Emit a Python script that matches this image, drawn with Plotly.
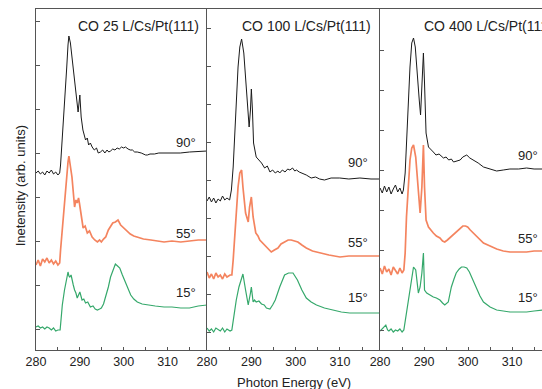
import plotly.graph_objects as go

# ---------------- data (photon energy in eV, intensity in arb. units) ----------------
titles = ["CO 25 L/Cs/Pt(111)", "CO 100 L/Cs/Pt(111)", "CO 400 L/Cs/Pt(111)"]
angles = ["90°", "55°", "15°"]

# Panel 1: CO 25 L
p1_e_90 = [280.0,280.5,281.0,281.5,282.0,282.5,283.0,283.5,284.0,284.5,
           285.0,285.4,285.6,286.0,286.5,287.0,287.3,287.5,287.85,288.6,
           289.2,289.6,290.0,290.2,290.3,290.7,291.0,291.3,291.7,292.0,
           292.4,292.8,293.3,293.8,294.2,294.7,295.2,295.7,296.2,296.6,
           297.0,297.5,298.0,298.5,299.0,299.5,300.0,300.4,301.0,301.5,
           302.0,302.5,303.1,304.0,305.0,305.4,306.0,307.0,308.0,309.1,
           310.0,311.0,312.9,315.0,317.0,319.0]
p1_i_90 = [17.7,17.9,17.6,17.8,17.5,17.9,17.7,18.0,17.6,17.8,
           17.5,17.7,18.5,21.0,24.2,28.2,30.5,31.4,30.7,28.0,
           25.3,23.8,25.5,24.3,23.3,22.0,21.5,21.0,21.2,20.5,
           20.7,20.3,20.0,20.2,19.7,19.8,20.0,19.7,20.0,19.8,
           19.9,20.1,20.0,20.2,20.1,20.3,20.2,20.3,20.1,20.0,
           20.0,19.8,19.8,19.7,19.5,19.5,19.6,19.6,19.7,19.7,
           19.7,19.65,19.7,19.8,19.85,19.9]
p1_e_55 = [280.0,280.5,281.0,281.5,282.0,282.5,283.0,283.5,284.0,284.5,
           285.0,285.4,285.6,286.0,286.5,287.0,287.3,287.5,287.8,288.2,
           288.8,289.1,289.4,289.7,289.9,290.3,290.75,291.2,291.7,292.2,
           292.8,293.4,294.0,294.5,294.9,295.4,295.9,296.5,297.0,297.5,
           298.1,298.7,299.3,300.0,300.8,301.5,302.3,303.1,304.5,306.2,
           307.5,309.2,311.0,313.0,315.0,317.0,319.0]
p1_i_55 = [8.5,9.0,8.4,9.1,8.8,9.2,8.7,9.0,8.6,8.9,
           8.5,8.7,10.0,12.2,15.0,17.5,18.8,19.4,18.5,17.3,
           14.3,15.0,14.7,15.2,14.7,13.3,12.2,12.4,11.7,11.9,
           11.3,11.0,10.8,11.0,10.8,11.1,11.3,12.0,12.3,12.7,
           12.8,13.0,12.5,12.2,11.8,11.6,11.4,11.3,11.1,11.0,
           10.9,10.8,10.9,10.8,10.9,11.0,11.0]
p1_e_15 = [280.0,280.5,281.0,281.5,282.0,282.5,283.0,283.5,284.0,284.5,
           285.0,285.5,285.7,286.0,286.5,287.0,287.3,287.5,287.7,288.0,
           288.2,288.5,288.8,289.1,289.4,290.0,290.5,290.9,291.3,291.8,
           292.4,293.0,293.5,294.0,294.5,294.9,295.4,295.9,296.5,297.0,
           297.5,298.1,298.6,299.1,299.7,300.4,301.0,301.6,302.3,303.1,
           304.2,305.4,307.2,309.2,311.0,313.0,315.0,317.0,319.0]
p1_i_15 = [2.3,2.4,2.2,2.3,2.1,2.3,2.2,2.0,2.2,1.9,
           2.0,2.0,3.0,4.5,6.0,7.0,7.8,7.4,7.3,7.5,
           7.2,6.5,6.0,5.7,5.2,5.8,5.0,5.1,4.7,4.8,
           4.3,4.4,4.1,4.0,4.1,4.2,4.6,5.3,6.3,7.3,
           8.0,8.6,8.4,8.2,7.5,6.7,6.0,5.5,5.1,4.8,
           4.6,4.5,4.4,4.3,4.3,4.2,4.2,4.4,4.5]

# Panel 2: CO 100 L
p2_e_90 = [280.0,280.5,281.0,281.5,282.0,282.5,283.0,283.5,284.0,284.5,
           285.1,285.5,285.9,286.3,286.6,287.0,287.4,287.8,288.3,288.9,
           289.5,289.8,290.0,290.25,290.5,291.1,291.7,292.3,293.0,293.6,
           294.2,294.8,295.4,296.0,296.4,297.0,297.6,298.2,298.7,299.3,
           299.8,300.2,300.8,301.5,302.4,303.5,304.5,305.4,306.5,308.0,
           309.95,312.0,314.5,317.0,319.0]
p2_i_90 = [14.9,15.3,14.8,15.2,14.7,15.1,14.9,15.4,15.0,15.2,
           15.0,16.0,18.3,21.7,25.0,28.3,30.3,31.1,29.7,26.0,
           22.3,24.0,26.1,24.0,20.7,19.3,19.0,18.7,18.2,18.4,
           17.8,18.0,17.7,17.9,17.7,18.0,17.8,18.1,18.0,18.2,
           17.9,18.0,17.8,17.7,17.5,17.2,17.3,17.1,17.0,17.2,
           17.2,17.1,17.2,17.1,17.1]
p2_e_55 = [280.0,280.5,281.0,281.5,282.0,282.5,283.0,283.5,284.0,284.5,
           285.2,285.6,285.9,286.3,286.6,287.0,287.4,287.8,288.1,288.7,
           289.3,289.6,290.0,290.4,291.0,291.5,291.9,292.6,293.4,294.0,
           294.5,295.2,296.0,296.7,297.5,298.3,299.0,299.8,300.5,301.4,
           302.4,303.8,305.4,307.5,310.0,312.0,314.5,317.0,319.0]
p2_i_55 = [7.8,7.2,7.6,7.1,7.7,7.3,7.5,7.1,7.6,7.3,
           7.5,7.5,9.0,11.7,14.3,16.3,17.7,18.0,16.3,13.7,
           12.8,14.3,15.3,13.3,11.7,11.4,11.0,10.7,10.3,10.0,
           9.8,10.0,10.2,10.6,10.8,11.0,11.0,10.9,10.8,10.5,
           10.2,9.9,9.7,9.5,9.3,9.4,9.4,9.4,9.4]
p2_e_15 = [280.0,280.5,281.0,281.5,282.0,282.5,283.0,283.5,284.0,284.5,
           285.2,285.6,285.9,286.6,287.2,287.8,288.1,288.7,289.3,289.8,
           290.0,290.4,290.7,291.1,291.7,292.3,292.9,293.4,294.2,294.8,
           295.4,296.4,297.5,298.4,299.4,300.4,301.4,302.4,303.5,304.7,
           306.5,308.4,310.3,312.2,314.0,316.0,319.0]
p2_i_15 = [2.2,1.9,2.1,1.8,2.2,2.0,1.9,2.2,1.8,2.1,
           1.9,2.0,3.0,5.0,6.3,7.2,7.6,6.0,4.5,5.7,
           6.3,4.8,5.0,4.8,4.9,4.6,4.5,4.2,4.1,4.5,
           5.0,6.3,7.5,7.7,7.7,7.0,6.0,5.2,4.8,4.5,
           4.2,4.0,3.8,3.7,3.7,3.7,3.7]

# Panel 3: CO 400 L
p3_e_90 = [280.0,280.5,281.0,281.5,282.0,282.5,283.0,283.5,284.0,284.5,
           285.0,285.3,285.7,286.0,286.4,286.8,287.2,287.6,288.0,288.3,
           288.9,289.2,289.6,289.85,290.1,290.45,291.0,291.5,292.1,292.7,
           293.4,294.4,295.0,295.6,296.2,296.7,297.5,298.2,298.8,299.7,
           300.4,301.2,302.3,303.5,305.0,306.5,308.0,309.5,311.5,313.3,
           315.0,317.0]
p3_i_90 = [16.2,15.7,16.4,15.8,16.3,15.6,16.1,16.5,15.8,16.2,
           15.6,16.0,17.7,21.0,25.0,28.3,30.7,31.2,30.3,28.3,
           25.0,23.5,27.3,29.7,26.7,21.7,20.3,20.1,19.8,19.5,
           19.6,19.2,19.3,19.0,19.1,18.8,18.9,19.0,19.3,19.5,
           19.2,19.0,18.7,18.3,18.1,17.9,18.0,18.1,18.1,18.2,
           18.1,18.1]
p3_e_55 = [280.0,280.5,281.0,281.5,282.0,282.5,283.0,283.5,284.0,284.5,
           285.0,285.4,285.7,286.0,286.4,286.8,287.2,287.6,288.1,288.6,
           289.1,289.5,289.85,290.1,290.45,291.0,291.5,292.1,292.8,293.6,
           294.2,294.7,295.3,295.8,296.5,297.3,298.0,298.8,299.4,299.9,
           300.5,301.2,302.3,303.5,305.0,306.5,308.0,309.5,311.5,313.3,
           315.0,317.0]
p3_i_55 = [8.2,7.6,8.4,7.8,8.1,7.5,8.3,7.9,7.6,8.2,
           7.7,8.0,9.7,13.3,16.3,19.0,20.2,20.5,19.3,16.3,
           13.7,16.3,20.5,16.3,13.0,12.3,12.0,11.7,11.4,11.2,
           10.9,10.8,11.0,11.2,11.5,11.8,12.1,12.4,12.4,12.3,
           12.0,11.7,11.2,10.7,10.4,10.1,9.9,9.8,9.8,9.8,
           9.9,9.9]
p3_e_15 = [280.0,280.5,281.0,281.3,281.7,282.0,282.5,283.0,283.5,284.0,
           284.5,285.0,285.4,285.8,286.4,286.9,287.3,287.6,288.1,288.4,
           288.7,289.1,289.5,289.85,290.1,290.6,291.3,292.1,292.8,293.6,
           294.2,294.7,295.5,296.2,296.8,297.3,298.0,298.5,299.1,299.7,
           300.3,300.8,301.4,302.0,302.7,303.5,305.0,306.5,308.0,309.5,
           311.5,313.3,315.0,317.0]
p3_i_15 = [1.9,2.1,2.4,2.5,2.0,1.9,2.1,1.8,2.0,1.9,
           2.1,1.8,2.0,3.2,5.0,6.7,7.8,8.3,8.0,7.0,
           5.7,6.3,7.7,9.7,6.0,5.7,5.5,5.3,5.2,5.0,
           4.7,4.5,4.8,6.3,7.1,7.7,8.1,8.3,8.3,8.2,
           7.8,7.3,6.6,6.0,5.4,4.8,4.3,4.0,3.9,3.8,
           3.8,3.8,3.9,4.0]

x_tick_labels = [280, 290, 300, 310]

# ---------------- styling ----------------
FONT = "Liberation Sans, Arial, sans-serif"
AX = "#555555"
TXT = "#222222"
colors = {"90°": "#1a1a1a", "55°": "#f4845f", "15°": "#35a86b"}
widths = {"90°": 1.0, "55°": 1.7, "15°": 1.2}

panels = [
    {"90°": (p1_e_90, p1_i_90), "55°": (p1_e_55, p1_i_55), "15°": (p1_e_15, p1_i_15)},
    {"90°": (p2_e_90, p2_i_90), "55°": (p2_e_55, p2_i_55), "15°": (p2_e_15, p2_i_15)},
    {"90°": (p3_e_90, p3_i_90), "55°": (p3_e_55, p3_i_55), "15°": (p3_e_15, p3_i_15)},
]

domains = [[0.0, 0.338], [0.338, 0.680], [0.680, 1.0]]
xranges = [[280, 319.0], [280, 319.05], [280, 316.8]]
ytick0 = [2.1, 1.8, 2.0]
ydtick = [4.4, 3.8, 4.0]
title_pos = [(317.7, "right"), (317.4, "right"), (289.5, "left")]
label_x = [317.0, 316.8, 316.4]
label_y = [[20.8, 11.7, 5.8], [18.8, 10.8, 5.3], [19.5, 11.2, 5.3]]

fig = go.Figure()
annotations = []
layout = {}
for k, panel in enumerate(panels):
    sfx = "" if k == 0 else str(k + 1)
    xa, ya = "x" + sfx, "y" + sfx
    for ang in angles:
        e, inten = panel[ang]
        fig.add_trace(go.Scatter(x=e, y=inten, mode="lines", xaxis=xa, yaxis=ya,
                                 line=dict(color=colors[ang], width=widths[ang]),
                                 showlegend=False, hoverinfo="skip"))
    layout["xaxis" + sfx] = dict(
        domain=domains[k], range=xranges[k], anchor=ya,
        showline=True, linecolor=AX, linewidth=1, mirror=True,
        ticks="inside", ticklen=3, tickcolor=AX,
        tickvals=x_tick_labels, ticktext=[str(v) for v in x_tick_labels],
        minor=dict(ticks="inside", ticklen=3, tickcolor=AX, dtick=5, tick0=280),
        showgrid=False, zeroline=False,
        tickfont=dict(family=FONT, size=12.5, color=TXT),
    )
    layout["yaxis" + sfx] = dict(
        domain=[0, 1], range=[0, 34.1], anchor=xa,
        showline=True, linecolor=AX, linewidth=1, mirror=False,
        ticks="inside", ticklen=4, tickcolor=AX,
        tick0=ytick0[k], dtick=ydtick[k],
        showticklabels=False, showgrid=False, zeroline=False,
    )
    tx, tanchor = title_pos[k]
    annotations.append(dict(text=titles[k], x=tx, y=32.4, xref=xa, yref=ya,
                            xanchor=tanchor, yanchor="middle", showarrow=False,
                            font=dict(family=FONT, size=14, color=TXT)))
    for j, ang in enumerate(angles):
        annotations.append(dict(text=ang, x=label_x[k], y=label_y[k][j], xref=xa, yref=ya,
                                xanchor="right", yanchor="middle", showarrow=False,
                                font=dict(family=FONT, size=13, color=TXT)))

annotations.append(dict(text="Photon Energy (eV)", x=0.51, y=-0.094, xref="paper", yref="paper",
                        xanchor="center", yanchor="middle", showarrow=False,
                        font=dict(family=FONT, size=13, color=TXT)))
annotations.append(dict(text="Inetensity (arb. units)", x=-0.0316, y=0.48, xref="paper", yref="paper",
                        xanchor="center", yanchor="middle", textangle=-90, showarrow=False,
                        font=dict(family=FONT, size=13, color=TXT)))

fig.update_layout(
    width=542, height=389,
    margin=dict(l=36, r=0, t=9, b=39),
    paper_bgcolor="white", plot_bgcolor="white",
    annotations=annotations,
    **layout,
)

fig.write_html("out.html", config={"displayModeBar": False},
               post_script="document.body.style.margin='0';document.body.style.overflow='hidden';")
